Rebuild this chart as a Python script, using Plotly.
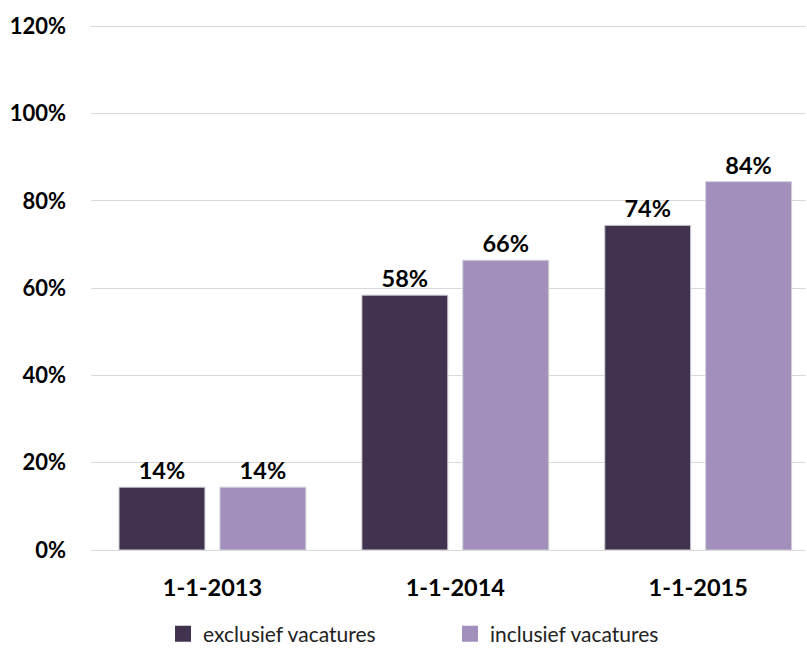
import plotly.graph_objects as go

categories = ["1-1-2013", "1-1-2014", "1-1-2015"]
excl = [14.4, 58.4, 74.4]
incl = [14.4, 66.4, 84.4]
series_names = ["exclusief vacatures", "inclusief vacatures"]
y_ticks = [0, 20, 40, 60, 80, 100, 120]
y_tick_labels = ["0%", "20%", "40%", "60%", "80%", "100%", "120%"]

FONT = "Lato, Calibri, Carlito, sans-serif"
dark = "#413250"
light = "#A28FBC"

fig = go.Figure()
for name, vals, col in [(series_names[0], excl, dark), (series_names[1], incl, light)]:
    fig.add_trace(go.Bar(
        x=categories, y=vals, name=name, showlegend=False,
        marker=dict(color=col, line=dict(color="#cfcfd6", width=1)),
        texttemplate="<b>%{y:.0f}%</b>",
        textposition="outside",
        textfont=dict(family=FONT, size=23.5, color="#000000"),
        cliponaxis=False,
    ))
for name, col in [(series_names[0], dark), (series_names[1], light)]:
    fig.add_trace(go.Scatter(
        x=[None], y=[None], mode="markers", name=name,
        marker=dict(symbol="square", size=17, color=col),
    ))

fig.update_layout(
    width=807, height=649,
    paper_bgcolor="white", plot_bgcolor="white",
    margin=dict(l=91, r=1, t=25, b=99, autoexpand=False),
    barmode="group", bargap=0.169, bargroupgap=0.1485,
    font=dict(family=FONT, color="#000000"),
    xaxis=dict(range=[-0.5, 2.444], showgrid=False, showline=True,
               linecolor="#d9d9d9", linewidth=1,
               tickfont=dict(family=FONT, size=23.5, color="#000000", weight="bold"),
               ticks="outside", ticklen=17, tickcolor="rgba(0,0,0,0)"),
    yaxis=dict(range=[0, 120.3], tickvals=y_ticks, ticktext=y_tick_labels,
               showgrid=True, gridcolor="#d9d9d9", gridwidth=1, zeroline=False,
               tickfont=dict(family=FONT, size=22, color="#000000", weight="bold"),
               ticklabelstandoff=24),
    legend=dict(orientation="h", xref="container", yref="paper",
                x=0.202, xanchor="left", y=-0.16, yanchor="middle",
                font=dict(family=FONT, size=21, color="#222222"),
                entrywidth=242, entrywidthmode="pixels", itemwidth=30,
                traceorder="normal"),
    showlegend=True,
)

fig.write_html("out.html", config={"displayModeBar": False},
               post_script="document.body.style.margin='0';document.body.style.overflow='hidden';")
